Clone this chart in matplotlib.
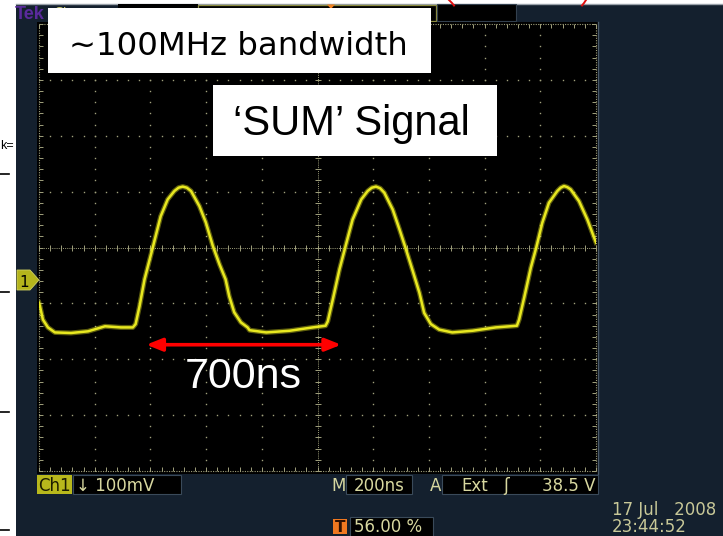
import numpy as np
import matplotlib
matplotlib.use("Agg")
import matplotlib.pyplot as plt
from matplotlib.patches import Rectangle, Polygon
from matplotlib import patheffects as pe
from matplotlib import font_manager as fm

# ---------------- captured trace (time from left screen edge, mV vs. Ch1 ground) ----------------
t_ns = [0, 3, 14, 32, 57, 115, 176, 237, 294, 337, 347, 361, 379, 409, 437, 462, 486,
        501, 516, 531, 546, 576, 599, 624, 648, 670, 683, 701, 725, 749, 756, 816, 900,
        983, 1029, 1037, 1055, 1079, 1100, 1126, 1157, 1180, 1195, 1210, 1225, 1240, 1270,
        1294, 1315, 1342, 1366, 1383, 1407, 1437, 1484, 1557, 1640, 1716, 1724, 1742, 1766,
        1786, 1807, 1831, 1861, 1873, 1885, 1897, 1909, 1939, 1969, 1993, 2000]
v_mv = [-42, -47, -72, -86, -95, -96, -93, -84, -86, -86, -80, -48, 0, 58, 113, 143, 158,
        164, 166, 164, 158, 131, 102, 60, 27, 0, -30, -59, -77, -86, -91, -95, -92,
        -86, -83, -75, -36, 18, 58, 107, 143, 158, 164, 166, 163, 155, 125,
        90, 58, 15, -24, -60, -80, -90, -95, -92, -86, -83, -72, -33, 21,
        58, 101, 137, 158, 164, 167, 165, 161, 140, 107, 75, 66]

# ---------------- scope settings ----------------
time_per_div_ns = 200
volts_per_div_mv = 100
n_div_x = 10
n_div_y = 8
ch1_position_div = -0.57          # ground marker position relative to screen centre

ch1_scale_text = "\u2193 100mV"
timebase_text = "200ns"
trigger_source = "Ext"
trigger_level = "38.5 V"
trigger_pos_text = "56.00 %"
date_text = "17 Jul   2008"
time_text = "23:44:52"

# period annotation
arrow_start_ns = 385
arrow_span_ns = 700
arrow_level_mv = -117
span_label = "700ns"

title_1 = "~100MHz bandwidth"
title_2 = "\u2018SUM\u2019 Signal"

# ---------------- styling ----------------
W, H = 723, 536
NAVY = "#14202e"
GRID = "#a0a07c"
TRACE = "#e8e820"
STATUS = "#d8d8a0"


def pick_font(*names):
    for n in names:
        try:
            fm.findfont(fm.FontProperties(family=n), fallback_to_default=False)
            return n
        except Exception:
            pass
    return "DejaVu Sans"


ARIAL = pick_font("Liberation Sans", "Arial")
SCOPE_FONT = "DejaVu Sans"


def fig_rect(x0, y0, x1, y1):
    return [x0 / W, 1 - y1 / H, (x1 - x0) / W, (y1 - y0) / H]


fig = plt.figure(figsize=(W / 100, H / 100), dpi=100, facecolor="white")

# ---------- background (pixel coordinates) ----------
bg = fig.add_axes([0, 0, 1, 1])
bg.set_xlim(0, W)
bg.set_ylim(H, 0)
bg.axis("off")

bg.add_patch(Rectangle((15.5, 3.5), W - 15.5, H, facecolor=NAVY, edgecolor="none", zorder=1))
bg.plot([15.5, W], [3.5, 3.5], color="#9aa2aa", lw=1.0, zorder=2)
# red marks at the top edge
bg.plot([449, 452, 454], [0, 3, 5.5], color="#e01010", lw=1.4, zorder=3)
bg.plot([586, 584, 582], [0, 3, 5.5], color="#e01010", lw=1.4, zorder=3)

# left margin marks
for yy in (174, 292, 412, 530):
    bg.plot([0, 9], [yy, yy], color="black", lw=1.2, zorder=2)
bg.text(0.5, 149, "k=", fontsize=9, color="black", family=ARIAL, zorder=2)

# top status bar
bg.text(15, 19, "Tek", fontsize=13, fontweight="bold", color="#5a2a9c", family=ARIAL, zorder=3)
bg.text(54, 17, "Stop", fontsize=10, color="#c8c870", family=SCOPE_FONT, zorder=3)
bg.add_patch(Rectangle((118, 4), 80, 6, facecolor="black", edgecolor="none", zorder=2))
bg.add_patch(Rectangle((198, 4.5), 238, 16, facecolor="black", edgecolor="#8c8c40", lw=0.9, zorder=2))
bg.add_patch(Rectangle((437, 4), 79, 17, facecolor="black", edgecolor="#33404e", lw=0.8, zorder=2))
bg.add_patch(Polygon([[327, 4.5], [335, 4.5], [331, 9]], closed=True, facecolor="#f08020",
                     edgecolor="none", zorder=3))

# graticule backdrop
bg.add_patch(Rectangle((36.5, 22), 561, 451.5, facecolor="black", edgecolor="none", zorder=2))
bg.plot([598, 598], [22, 473.5], color="#4a5a6a", lw=1.0, zorder=2)

# channel 1 ground marker
bg.add_patch(Polygon([[17, 270], [30, 270], [39, 280], [30, 290], [17, 290]], closed=True,
                     facecolor="#b4b41c", edgecolor="#d0d060", lw=0.6, zorder=3))
bg.text(24, 287, "1", fontsize=11, color="black", family=SCOPE_FONT, ha="center", zorder=4)

# bottom readouts
bg.add_patch(Rectangle((37, 475), 35, 18.5, facecolor="#b8b81c", edgecolor="none", zorder=3))
bg.text(38, 491, "Ch1", fontsize=12, color="#1c1c00", family=SCOPE_FONT, zorder=4)
bg.add_patch(Rectangle((72.5, 475), 108.5, 19, facecolor="black", edgecolor="#3a4a5a", lw=0.8, zorder=3))
bg.text(76, 491, ch1_scale_text, fontsize=12, color=STATUS, family=SCOPE_FONT, zorder=4)

bg.text(331, 491, "M", fontsize=12, color=STATUS, family=SCOPE_FONT, zorder=4)
bg.add_patch(Rectangle((346, 475), 66, 19, facecolor="black", edgecolor="#3a4a5a", lw=0.8, zorder=3))
bg.text(354, 491, timebase_text, fontsize=12, color=STATUS, family=SCOPE_FONT, zorder=4)
bg.text(430, 491, "A", fontsize=12, color=STATUS, family=SCOPE_FONT, zorder=4)
bg.add_patch(Rectangle((442, 475), 156, 19, facecolor="black", edgecolor="#3a4a5a", lw=0.8, zorder=3))
bg.text(461, 491, trigger_source, fontsize=12, color=STATUS, family=SCOPE_FONT, zorder=4)
bg.text(503, 491, "\u0283", fontsize=12, color=STATUS, family=SCOPE_FONT, zorder=4)
bg.text(595, 491, trigger_level, fontsize=12, color=STATUS, family=SCOPE_FONT, ha="right", zorder=4)

bg.add_patch(Rectangle((333, 519), 14, 15, facecolor="#f07820", edgecolor="none", zorder=3))
bg.text(340, 532, "T", fontsize=11, color="#301000", family=SCOPE_FONT, ha="center",
        fontweight="bold", zorder=4)
bg.add_patch(Rectangle((350, 517), 83, 20, facecolor="black", edgecolor="#3a4a5a", lw=0.8, zorder=3))
bg.text(354, 532, trigger_pos_text, fontsize=12, color=STATUS, family=SCOPE_FONT, zorder=4)

bg.text(612, 515, date_text, fontsize=12, color="#c8c898", family=SCOPE_FONT, zorder=4)
bg.text(612, 532, time_text, fontsize=12, color="#c8c898", family=SCOPE_FONT, zorder=4)

# ---------- scope graticule & trace (data coordinates) ----------
ax = fig.add_axes(fig_rect(39, 24, 596, 471), zorder=2)
ax.set_facecolor("none")
x_lo, x_hi = 0, n_div_x * time_per_div_ns
y_c = -ch1_position_div * volts_per_div_mv
y_lo = y_c - n_div_y / 2 * volts_per_div_mv
y_hi = y_c + n_div_y / 2 * volts_per_div_mv
ax.set_xlim(x_lo, x_hi)
ax.set_ylim(y_lo, y_hi)
ax.axis("off")

x_c = x_hi / 2
xs_minor = np.linspace(x_lo, x_hi, n_div_x * 5 + 1)
ys_minor = np.linspace(y_lo, y_hi, n_div_y * 5 + 1)

dot = dict(ls="none", marker="s", ms=1.0, mew=0, color=GRID)
for k in range(1, n_div_x):
    xv = x_lo + k * time_per_div_ns
    if xv != x_c:
        ax.plot(np.full_like(ys_minor, xv), ys_minor, **dot)
for j in range(1, n_div_y):
    yv = y_lo + j * volts_per_div_mv
    if abs(yv - y_c) > 1e-6:
        ax.plot(xs_minor, np.full_like(xs_minor, yv), **dot)

# centre cross with minor ticks
ax.plot([x_lo, x_hi], [y_c, y_c], ls=(0, (1, 1.2)), lw=0.7, color=GRID)
ax.plot([x_c, x_c], [y_lo, y_hi], ls=(0, (1, 1.2)), lw=0.7, color=GRID)
ax.plot(xs_minor, np.full_like(xs_minor, y_c), ls="none", marker="|", ms=3.8, mew=0.7, color=GRID)
ax.plot(np.full_like(ys_minor, x_c), ys_minor, ls="none", marker="_", ms=3.8, mew=0.7, color=GRID)

# border with inward ticks
for xs, ys in (([x_lo, x_hi], [y_lo, y_lo]), ([x_lo, x_hi], [y_hi, y_hi]),
               ([x_lo, x_lo], [y_lo, y_hi]), ([x_hi, x_hi], [y_lo, y_hi])):
    ax.plot(xs, ys, ls=(0, (1, 1.2)), lw=0.8, color=GRID, clip_on=False)
tick = dict(ls="none", ms=3.0, mew=0.7, color=GRID, clip_on=False)
ax.plot(xs_minor, np.full_like(xs_minor, y_lo), marker=2, **tick)
ax.plot(xs_minor, np.full_like(xs_minor, y_hi), marker=3, **tick)
ax.plot(np.full_like(ys_minor, x_lo), ys_minor, marker=1, **tick)
ax.plot(np.full_like(ys_minor, x_hi), ys_minor, marker=0, **tick)

# the waveform
ax.plot(t_ns, v_mv, color=TRACE, lw=1.8, solid_joinstyle="round", zorder=5,
        path_effects=[pe.Stroke(linewidth=3.6, foreground=TRACE, alpha=0.4), pe.Normal()])

# period marker
ax.annotate("", xy=(arrow_start_ns, arrow_level_mv),
            xytext=(arrow_start_ns + arrow_span_ns, arrow_level_mv),
            arrowprops=dict(arrowstyle="<|-|>,head_length=0.95,head_width=0.38",
                            color="#ff0000", lw=2.6, mutation_scale=10,
                            shrinkA=0, shrinkB=0), zorder=6)
ax.text(arrow_start_ns + arrow_span_ns / 2, -195, span_label, color="white", fontsize=31,
        family=ARIAL, ha="center", va="baseline", zorder=6)

# ---------- caption boxes ----------
ov = fig.add_axes([0, 0, 1, 1], zorder=5)
ov.set_facecolor("none")
ov.set_xlim(0, W)
ov.set_ylim(H, 0)
ov.axis("off")
ov.add_patch(Rectangle((48, 8), 383, 65, facecolor="white", edgecolor="none"))
ov.text(69, 55, title_1, fontsize=23.3, color="black", family="DejaVu Sans", va="baseline")
ov.add_patch(Rectangle((213, 85), 284, 71, facecolor="white", edgecolor="none"))
ov.text(233, 135, title_2, fontsize=30, color="black", family=ARIAL, va="baseline")

fig.savefig("out.png", dpi=100, facecolor="white")
